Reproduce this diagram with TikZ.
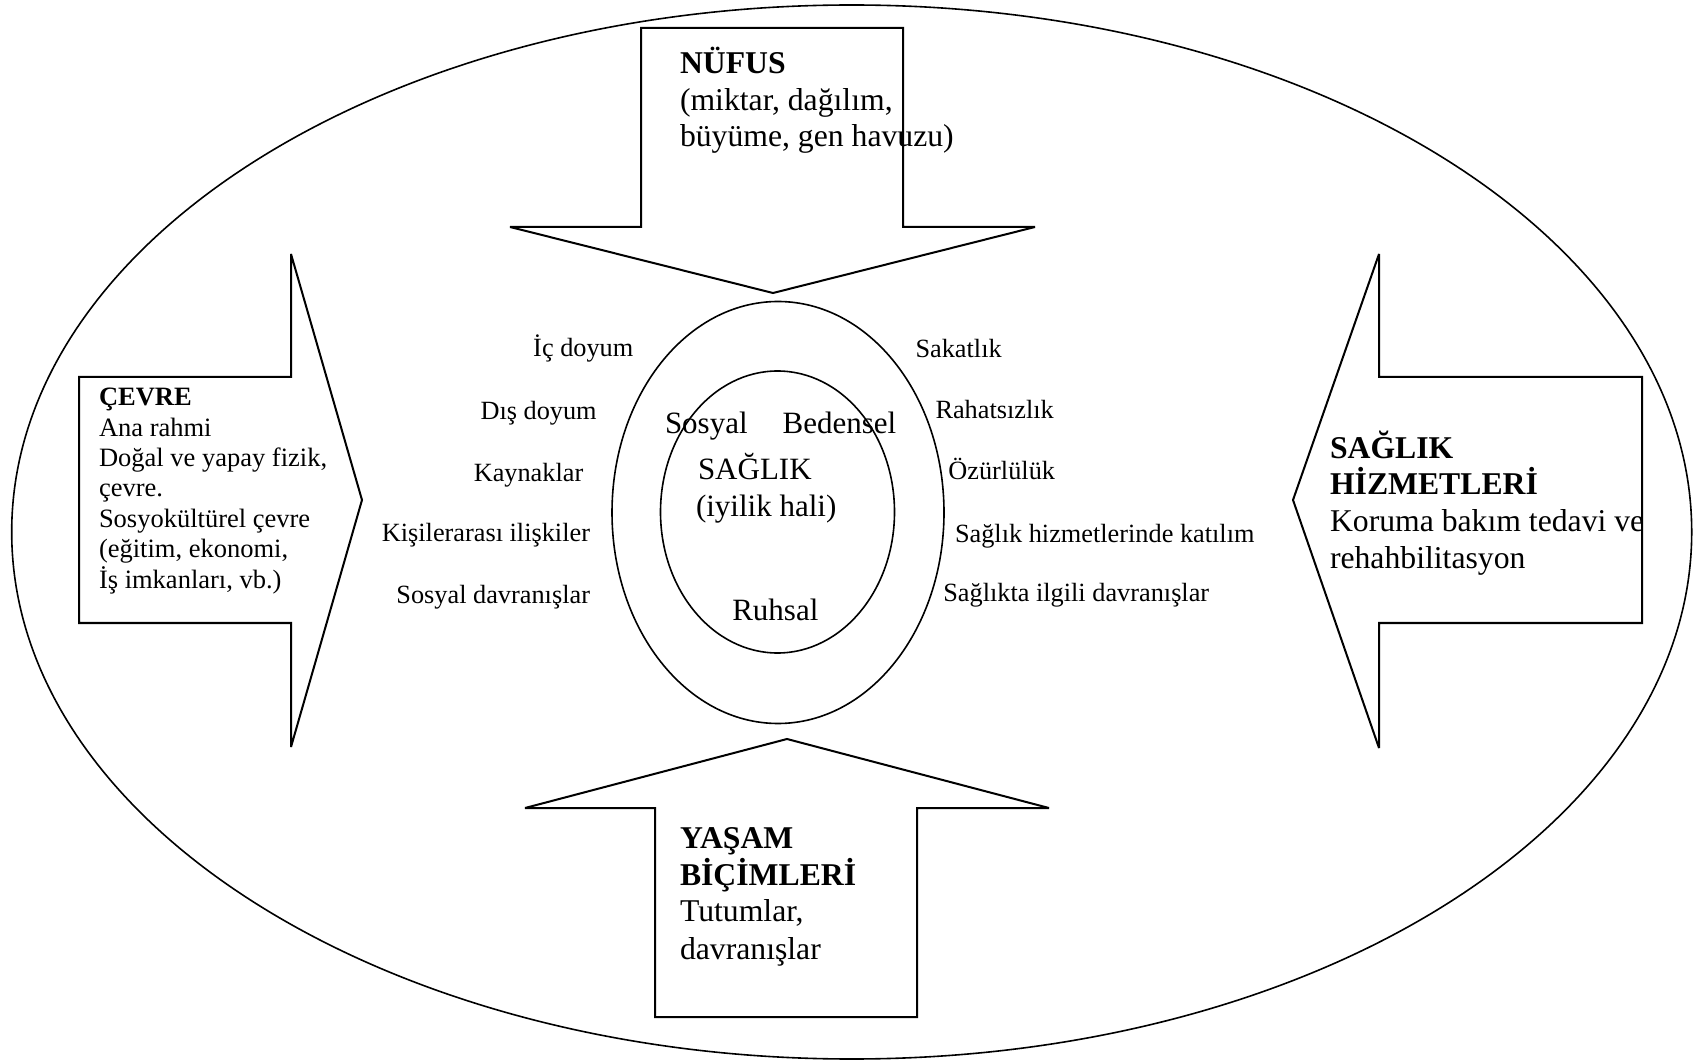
\documentclass[tikz,border=0pt]{standalone}
\usepackage{fontspec}
\setmainfont{Liberation Serif}
\begin{document}
\begin{tikzpicture}[x=0.5pt,y=-0.5pt,
  block/.style={draw=black, line width=1pt, line join=miter, miter limit=2},
  ring/.style={draw=black, line width=0.8pt},
  lw/.style={anchor=base west, inner sep=0pt, outer sep=0pt},
  le/.style={anchor=base east, inner sep=0pt, outer sep=0pt},
  head/.style={font=\fontsize{15.85}{18}\selectfont\bfseries},
  body/.style={font=\fontsize{15.85}{18}\selectfont},
  shead/.style={font=\fontsize{13.25}{15}\selectfont\bfseries},
  sbody/.style={font=\fontsize{13.25}{15}\selectfont},
  core/.style={font=\fontsize{15.5}{18}\selectfont},
  side/.style={font=\fontsize{13.15}{15}\selectfont}]
\useasboundingbox (0,0) rectangle (1697,1063);

% enclosing ellipse and the two health rings
\draw[ring] (851.7,532) ellipse [x radius=840, y radius=527];
\draw[ring] (778,512.5) ellipse [x radius=166, y radius=211];
\draw[ring] (777.5,512) ellipse [x radius=117, y radius=141];

% block arrows pointing at the centre
\draw[block] (641,28) -- (903,28) -- (903,227) -- (1035,227) -- (773,293)
  -- (510,227) -- (641,227) -- cycle;
\draw[block] (79,377) -- (291,377) -- (291,254) -- (362,500) -- (291,747)
  -- (291,623) -- (79,623) -- cycle;
\draw[block] (1642,377) -- (1379,377) -- (1379,254) -- (1293,500) -- (1379,748)
  -- (1379,623) -- (1642,623) -- cycle;
\draw[block] (655,1017) -- (917,1017) -- (917,808) -- (1049,808) -- (787,739)
  -- (525,808) -- (655,808) -- cycle;

% population
\node[lw,head] (nufus) at (680,74) {NÜFUS};
\node[lw,body] (nufusa) at (680,111) {(miktar, dağılım,};
\node[lw,body] (nufusb) at (680,147) {büyüme, gen havuzu)};

% environment
\node[lw,shead] (cevre) at (99,405.7) {ÇEVRE};
\node[lw,sbody] (cevrea) at (99,436.1) {Ana rahmi};
\node[lw,sbody] (cevreb) at (99,466.5) {Doğal ve yapay fizik,};
\node[lw,sbody] (cevrec) at (99,496.9) {çevre.};
\node[lw,sbody] (cevred) at (99,527.3) {Sosyokültürel çevre};
\node[lw,sbody] (cevree) at (99,557.7) {(eğitim, ekonomi,};
\node[lw,sbody] (cevref) at (99,588.1) {İş imkanları, vb.)};

% health services
\node[lw,head] (hiza) at (1330,458.3) {SAĞLIK};
\node[lw,head] (hizb) at (1330,495) {HİZMETLERİ};
\node[lw,body] (hizc) at (1330,531.7) {Koruma bakım tedavi ve};
\node[lw,body] (hizd) at (1330,568.3) {rehahbilitasyon};

% lifestyles
\node[lw,head] (yasa) at (680,848.3) {YAŞAM};
\node[lw,head] (yasb) at (680,885.7) {BİÇİMLERİ};
\node[lw,body] (yasc) at (680,921.7) {Tutumlar,};
\node[lw,body] (yasd) at (680,959.3) {davranışlar};

% centre
\node[lw,core] (sosyal) at (665,433.3) {Sosyal};
\node[lw,core] (bedensel) at (782.7,433.3) {Bedensel};
\node[lw,core] (saglik) at (698,480) {SAĞLIK};
\node[lw,core] (iyilik) at (696,516.7) {(iyilik hali)};
\node[lw,core] (ruhsal) at (732.3,620) {Ruhsal};

% positive factors, left
\node[le,side] (icd) at (633.3,356.7) {İç doyum};
\node[le,side] (disd) at (596.7,419.3) {Dış doyum};
\node[le,side] (kayn) at (583.3,481.7) {Kaynaklar};
\node[le,side] (kisi) at (590,541.7) {Kişilerarası ilişkiler};
\node[le,side] (sosd) at (590,603.3) {Sosyal davranışlar};

% negative factors, right
\node[lw,side] (sakat) at (915.5,357.3) {Sakatlık};
\node[lw,side] (rahat) at (935.5,418.3) {Rahatsızlık};
\node[lw,side] (ozur) at (948.4,480) {Özürlülük};
\node[lw,side] (katil) at (955,542.3) {Sağlık hizmetlerinde katılım};
\node[lw,side] (davr) at (943.3,601.7) {Sağlıkta ilgili davranışlar};
\end{tikzpicture}
\end{document}
